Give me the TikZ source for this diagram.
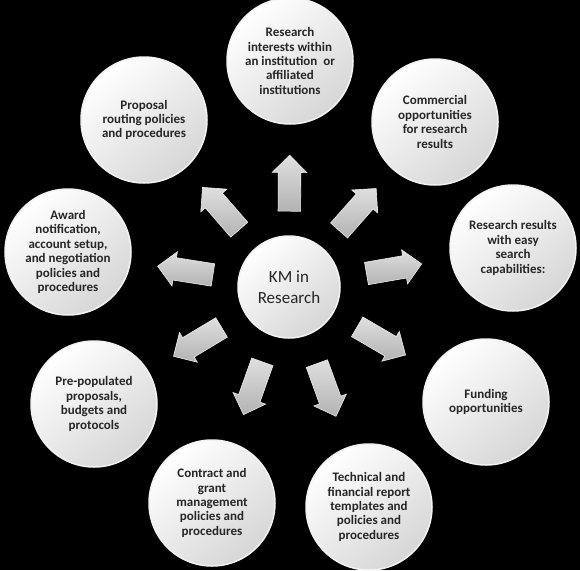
\documentclass[tikz,border=0pt]{standalone}
\usepackage{fontspec}
\setmainfont{Carlito}
\usepackage{xcolor}
\usepackage{tikz}
\usetikzlibrary{shapes.arrows}

\begin{document}
\begin{tikzpicture}[x=1pt,y=-1pt,
  topic/.style={circle,minimum size=126pt,inner sep=0pt,align=center,
    font=\fontsize{13}{14.4}\selectfont\bfseries,text=black!85,
    top color=white,bottom color=gray!32,shading angle=40,
    draw=white!90!gray,line width=1.5pt},
  hub/.style={topic,minimum size=102pt,font=\fontsize{17}{20.5}\selectfont\mdseries},
  blockarr/.style={single arrow,minimum height=56pt,inner xsep=0pt,inner ysep=11pt,
    single arrow head extend=6pt,
    top color=gray!25,bottom color=gray!60,draw=gray!15,line width=0.6pt,
    sloped,allow upside down,pos=0.44}]
  % background
  \useasboundingbox (0,0) rectangle (580,570);
  \fill[black] (0,0) rectangle (580,570);

  % hub
  \node[hub] (km) at (289,287) {KM in\\Research};

  % topics, clockwise from the top
  \node[topic] (c1) at (290,61)  {Research\\interests within\\an institution~ or\\affiliated\\institutions};
  \node[topic] (c2) at (435,122) {Commercial\\opportunities\\for research\\results};
  \node[topic] (c3) at (513,248) {Research results\\with easy\\search\\capabilities:};
  \node[topic] (c4) at (486,402) {Funding\\opportunities};
  \node[topic] (c5) at (369,507) {Technical and\\financial report\\templates and\\policies and\\procedures};
  \node[topic] (c6) at (212,503) {Contract and\\grant\\management\\policies and\\procedures};
  \node[topic] (c7) at (94,404)  {Pre-populated\\proposals,\\budgets and\\protocols};
  \node[topic] (c8) at (68,252)  {Award\\notification,\\account setup,\\and negotiation\\policies and\\procedures};
  \node[topic] (c9) at (144,120) {Proposal\\routing policies\\and procedures};

  % block arrows
  \path (km) -- (c1) node[blockarr,pos=0.42] (a1) {};
  \path (km) -- (c2) node[blockarr] (a2) {};
  \path (km) -- (c3) node[blockarr] (a3) {};
  \path (km) -- (c4) node[blockarr] (a4) {};
  \path (km) -- (c5) node[blockarr] (a5) {};
  \path (km) -- (c6) node[blockarr] (a6) {};
  \path (km) -- (c7) node[blockarr] (a7) {};
  \path (km) -- (c8) node[blockarr] (a8) {};
  \path (km) -- (c9) node[blockarr] (a9) {};
\end{tikzpicture}
\end{document}
